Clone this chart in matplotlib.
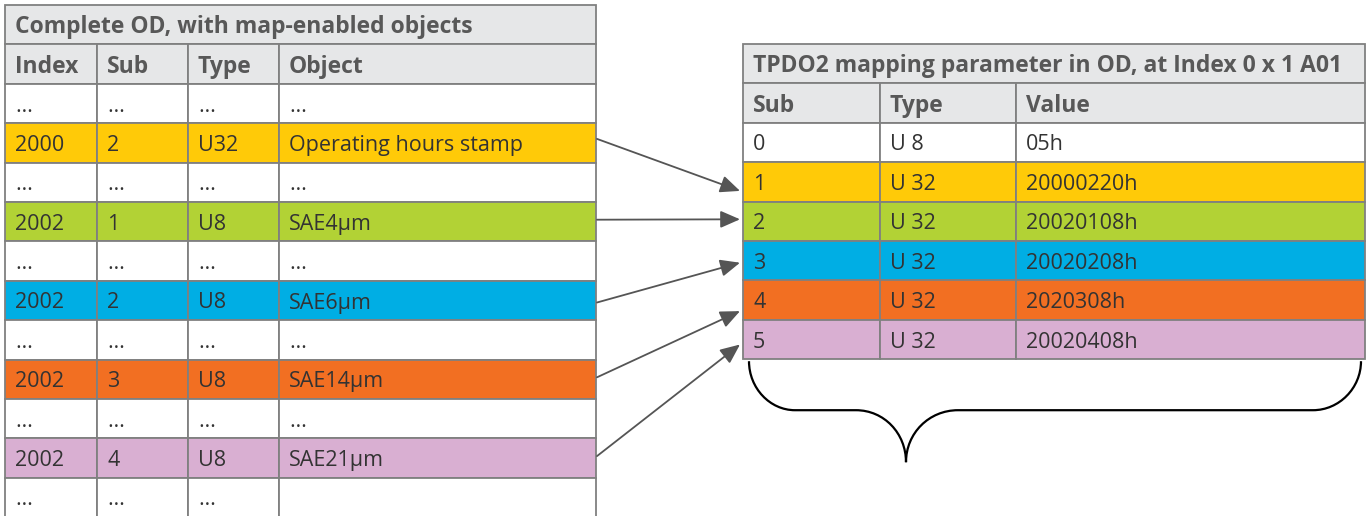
import matplotlib.pyplot as plt
from matplotlib.patches import Rectangle, FancyArrowPatch, PathPatch
from matplotlib.path import Path

# ---- colours ----
YELLOW = "#FFCA08"
GREEN  = "#B2D235"
BLUE   = "#00AEE4"
ORANGE = "#F26F22"
PINK   = "#D9AFD2"
HEAD   = "#E6E7E8"
BORDER = "#808080"
TXT    = "#333333"
HTXT   = "#585858"
FONT   = ["Open Sans", "DejaVu Sans"]

# ---- data: complete OD ----
left_title = "Complete OD, with map-enabled objects"
left_header = ["Index", "Sub", "Type", "Object"]
left_index = ["…", "2000", "…", "2002", "…", "2002", "…", "2002", "…", "2002", "…"]
left_sub = ["…", "2", "…", "1", "…", "2", "…", "3", "…", "4", "…"]
left_type = ["…", "U32", "…", "U8", "…", "U8", "…", "U8", "…", "U8", "…"]
left_object = ["…", "Operating hours stamp", "…", "SAE4µm", "…", "SAE6µm",
               "…", "SAE14µm", "…", "SAE21µm", ""]
left_colors = [None, YELLOW, None, GREEN, None, BLUE, None, ORANGE, None, PINK, None]

# ---- data: TPDO2 mapping ----
right_title = "TPDO2 mapping parameter in OD, at Index 0 x 1 A01"
right_header = ["Sub", "Type", "Value"]
right_sub = ["0", "1", "2", "3", "4", "5"]
right_type = ["U 8", "U 32", "U 32", "U 32", "U 32", "U 32"]
right_value = ["05h", "20000220h", "20020108h", "20020208h", "2020308h", "20020408h"]
right_colors = [None, YELLOW, GREEN, BLUE, ORANGE, PINK]

# which left row maps to which right row
links = [(1, 1), (3, 2), (5, 3), (7, 4), (9, 5)]

# ---- layout (pixels) ----
W, H = 1367, 516
ROW = 39.4
L_COLS = [5, 97, 188, 279, 596]
L_TOP = 5
R_COLS = [743, 880, 1016, 1365]
R_TOP = 44
PAD = 10
FS = 15.5
FS_BOLD = 16.5

fig = plt.figure(figsize=(W / 100, H / 100), dpi=100)
ax = fig.add_axes([0, 0, 1, 1])
ax.set_xlim(0, W)
ax.set_ylim(H, 0)
ax.axis("off")


def cell(x0, x1, y0, text, color, bold=False, tcolor=TXT):
    ax.add_patch(Rectangle((x0, y0), x1 - x0, ROW, facecolor=color or "white",
                           edgecolor=BORDER, linewidth=1.3))
    if text:
        ax.text(x0 + PAD, y0 + ROW / 2 + 2.5, text, ha="left", va="center",
                fontsize=FS_BOLD if bold else FS, color=tcolor, family=FONT,
                weight="bold" if bold else "normal")


def table(cols, top, title, header, columns, colors):
    cell(cols[0], cols[-1], top, title, HEAD, bold=True, tcolor=HTXT)
    y = top + ROW
    for i, h in enumerate(header):
        cell(cols[i], cols[i + 1], y, h, HEAD, bold=True, tcolor=HTXT)
    rows_y = []
    for r in range(len(columns[0])):
        y = top + ROW * (r + 2)
        rows_y.append(y + ROW / 2)
        for c, col in enumerate(columns):
            cell(cols[c], cols[c + 1], y, col[r], colors[r])
    return rows_y


ly = table(L_COLS, L_TOP, left_title, left_header,
           [left_index, left_sub, left_type, left_object], left_colors)
ry = table(R_COLS, R_TOP, right_title, right_header,
           [right_sub, right_type, right_value], right_colors)

# arrows from OD objects to mapping entries
start_off = [-4, -2, 2, -2, -2]
end_off = [9, -2, 2, 11, 5]
for k, (li, ri) in enumerate(links):
    a = FancyArrowPatch((L_COLS[-1] + 1, ly[li] + start_off[k]),
                        (R_COLS[0] - 3, ry[ri] + end_off[k]),
                        arrowstyle="-|>,head_length=0.8,head_width=0.35",
                        mutation_scale=15, color="#555555", linewidth=1.3,
                        shrinkA=0, shrinkB=0)
    ax.add_patch(a)

# curly brace under mapping table
bx0, bx1 = R_COLS[0] + 6, R_COLS[-1] - 4
btop = R_TOP + ROW * 8 + 2
bmid = btop + 49
tip_x, tip_y = 906, bmid + 52
verts = [(bx0, btop), (bx0, btop + 27), (bx0 + 21, bmid), (bx0 + 46, bmid),
         (tip_x - 50, bmid),
         (tip_x - 22, bmid), (tip_x, bmid + 23), (tip_x, tip_y),
         (tip_x, bmid + 23), (tip_x + 23, bmid), (tip_x + 52, bmid),
         (bx1 - 48, bmid),
         (bx1 - 22, bmid), (bx1, btop + 27), (bx1, btop)]
codes = [Path.MOVETO, Path.CURVE4, Path.CURVE4, Path.CURVE4,
         Path.LINETO,
         Path.CURVE4, Path.CURVE4, Path.CURVE4,
         Path.CURVE4, Path.CURVE4, Path.CURVE4,
         Path.LINETO,
         Path.CURVE4, Path.CURVE4, Path.CURVE4]
ax.add_patch(PathPatch(Path(verts, codes), facecolor="none",
                       edgecolor="black", linewidth=1.6))

fig.savefig("out.png", dpi=100, facecolor="white")
